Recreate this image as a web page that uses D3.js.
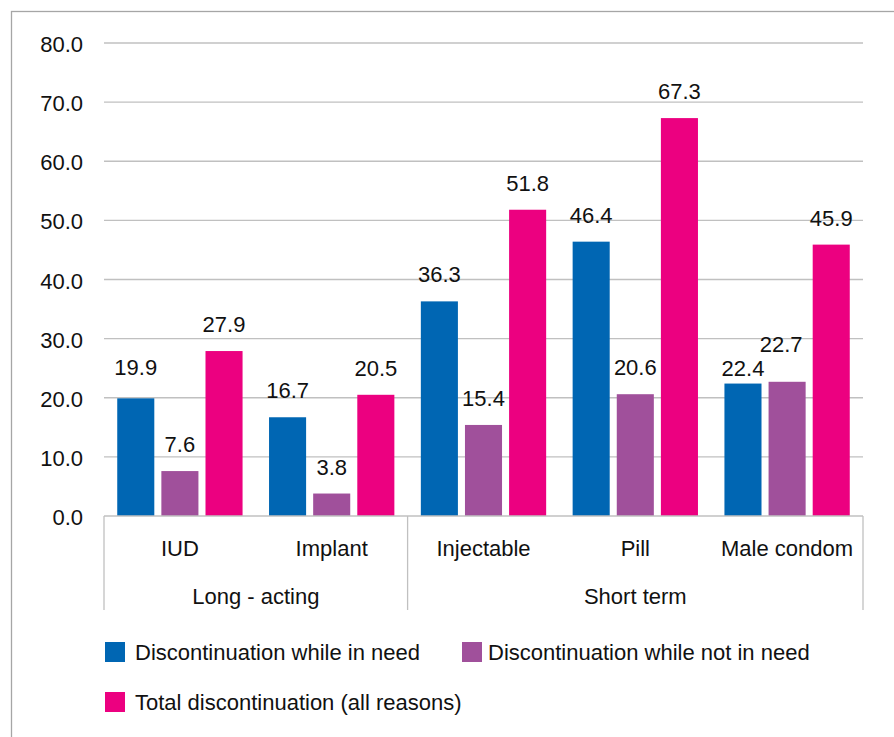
<!DOCTYPE html>
<html>
<head>
<meta charset="utf-8">
<script src="https://cdn.jsdelivr.net/npm/d3@7"></script>
<style>
  body { margin: 0; background: #fff; }
  svg text { font-family: "Liberation Sans", Arial, sans-serif; fill: #111; }
</style>
</head>
<body>
<svg id="chart" width="894" height="737"></svg>
<script>
// data
const categories = ['IUD', 'Implant', 'Injectable', 'Pill', 'Male condom'];
const groups = [
  { name: 'Long - acting', members: ['IUD', 'Implant'] },
  { name: 'Short term', members: ['Injectable', 'Pill', 'Male condom'] }
];
const seriesNames = [
  'Discontinuation while in need',
  'Discontinuation while not in need',
  'Total discontinuation (all reasons)'
];
const inNeed = [19.9, 16.7, 36.3, 46.4, 22.4];
const notInNeed = [7.6, 3.8, 15.4, 20.6, 22.7];
const total = [27.9, 20.5, 51.8, 67.3, 45.9];
const yTicks = [0, 10, 20, 30, 40, 50, 60, 70, 80];

const colors = ['#0066b3', '#a0509b', '#ec0080'];
const seriesValues = [inNeed, notInNeed, total];

const svg = d3.select('#chart');
const fontSize = 22;

// outer frame (right and bottom edges fall outside the picture)
svg.append('rect')
  .attr('x', 11.5)
  .attr('y', 11.5)
  .attr('width', 1000)
  .attr('height', 1000)
  .attr('fill', 'none')
  .attr('stroke', '#a6a6a6')
  .attr('stroke-width', 1.3);

const plotLeft = 104;
const plotRight = 863;
const y = d3.scaleLinear().domain([0, 80]).range([516, 43]);

const x0 = d3.scaleBand()
  .domain(categories)
  .range([plotLeft, plotRight])
  .padding(0);

const x1 = d3.scaleBand()
  .domain(d3.range(seriesNames.length))
  .range([0, x0.bandwidth()])
  .paddingInner(0.16)
  .paddingOuter(0.3);

// gridlines
svg.append('g')
  .selectAll('line')
  .data(yTicks.filter(t => t > 0))
  .join('line')
    .attr('x1', plotLeft)
    .attr('x2', plotRight)
    .attr('y1', d => y(d))
    .attr('y2', d => y(d))
    .attr('stroke', '#c0c0c0')
    .attr('stroke-width', 1.3);

// y tick labels
svg.append('g')
  .selectAll('text')
  .data(yTicks)
  .join('text')
    .attr('x', 83)
    .attr('y', d => y(d) + 9)
    .attr('text-anchor', 'end')
    .style('font-size', `${fontSize}px`)
    .text(d => d.toFixed(1));

// bars
const rows = [];
categories.forEach((c, i) => {
  seriesValues.forEach((vals, s) => {
    rows.push({ category: c, series: s, value: vals[i] });
  });
});

svg.append('g')
  .selectAll('rect')
  .data(rows)
  .join('rect')
    .attr('x', d => x0(d.category) + x1(d.series))
    .attr('y', d => y(d.value))
    .attr('width', x1.bandwidth())
    .attr('height', d => y(0) - y(d.value))
    .attr('fill', d => colors[d.series]);

// value labels; a few are nudged the way the original placed them
const labelNudge = {
  'IUD|0': -4,
  'Male condom|0': 11,
  'Male condom|1': -11
};
svg.append('g')
  .selectAll('text')
  .data(rows)
  .join('text')
    .attr('x', d => x0(d.category) + x1(d.series) + x1.bandwidth() / 2 - (d.category === 'Male condom' && d.series === 1 ? 6 : 0))
    .attr('y', d => y(d.value) - 19 + (labelNudge[`${d.category}|${d.series}`] || 0))
    .attr('text-anchor', 'middle')
    .style('font-size', `${fontSize}px`)
    .text(d => d.value.toFixed(1));

// x axis line
svg.append('line')
  .attr('x1', plotLeft)
  .attr('x2', plotRight)
  .attr('y1', y(0))
  .attr('y2', y(0))
  .attr('stroke', '#c0c0c0')
  .attr('stroke-width', 1.3);

// group separators
const sepX = [plotLeft];
groups.forEach(g => {
  sepX.push(x0(g.members[g.members.length - 1]) + x0.bandwidth());
});
svg.append('g')
  .selectAll('line')
  .data(sepX)
  .join('line')
    .attr('x1', d => d)
    .attr('x2', d => d)
    .attr('y1', y(0))
    .attr('y2', 610)
    .attr('stroke', '#c0c0c0')
    .attr('stroke-width', 1.3);

// category labels
svg.append('g')
  .selectAll('text')
  .data(categories)
  .join('text')
    .attr('x', d => x0(d) + x0.bandwidth() / 2)
    .attr('y', 556)
    .attr('text-anchor', 'middle')
    .style('font-size', `${fontSize}px`)
    .text(d => d);

// group labels
svg.append('g')
  .selectAll('text')
  .data(groups)
  .join('text')
    .attr('x', g => {
      const a = x0(g.members[0]);
      const b = x0(g.members[g.members.length - 1]) + x0.bandwidth();
      return (a + b) / 2;
    })
    .attr('y', 604)
    .attr('text-anchor', 'middle')
    .style('font-size', `${fontSize}px`)
    .text(g => g.name);

// legend
const legendPos = [[105, 642], [462, 642], [105, 692]];
const legend = svg.append('g')
  .selectAll('g')
  .data(seriesNames)
  .join('g')
    .attr('transform', (d, i) => `translate(${legendPos[i][0]},${legendPos[i][1]})`);

legend.append('rect')
  .attr('width', 20)
  .attr('height', 20)
  .attr('fill', (d, i) => colors[i]);

legend.append('text')
  .attr('x', d => (d === seriesNames[1] ? 26 : 30))
  .attr('y', 18)
  .style('font-size', `${fontSize}px`)
  .text(d => d);
</script>
</body>
</html>
